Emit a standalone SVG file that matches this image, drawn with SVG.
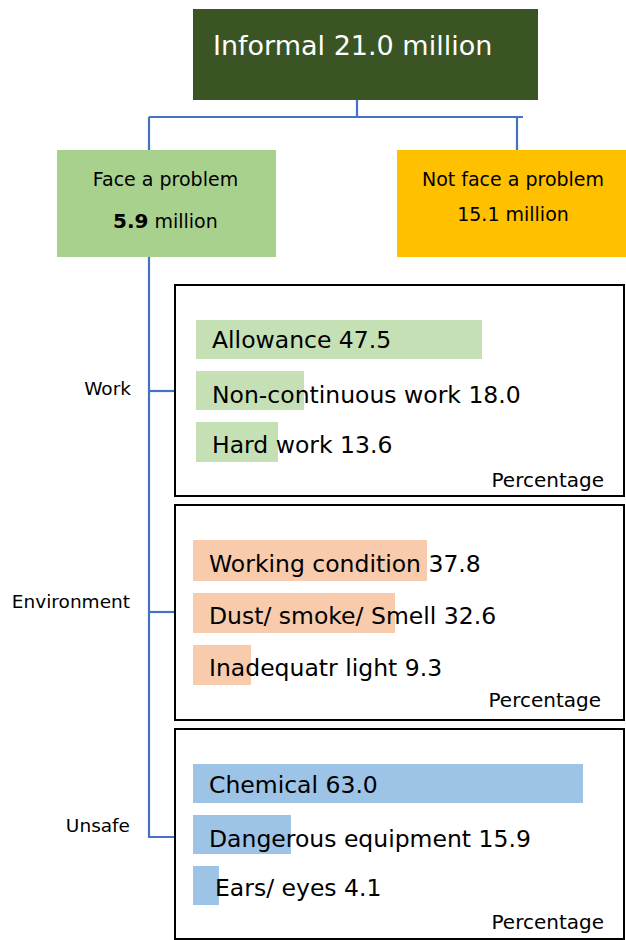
<svg xmlns="http://www.w3.org/2000/svg" width="626" height="940" viewBox="0 0 626 940">
<style>
text{font-family:"DejaVu Sans","Noto Sans",sans-serif;fill:#000}
.conn{stroke:#4472C4;stroke-width:2.2;fill:none}
.panel{fill:#fff;stroke:#000;stroke-width:2}
.bar-g{fill:#C5E0B4}
.bar-o{fill:#F8CBAD}
.bar-b{fill:#9DC3E6}
.item{font-size:23.5px}
.pct{font-size:20px;text-anchor:end}
.lbl{font-size:18.5px;text-anchor:end}
.cat{font-size:19px;text-anchor:middle}
</style>
<rect width="626" height="940" fill="#fff"/>
<g id="connectors">
<path class="conn" d="M357,100 V117"/>
<path class="conn" d="M149,117 H523"/>
<path class="conn" d="M517,117 V150"/>
<path class="conn" d="M149,117 V837 H175"/>
<path class="conn" d="M149,391 H175"/>
<path class="conn" d="M149,612 H175"/>
</g>
<g id="informal">
<rect x="193" y="9" width="345" height="91" fill="#3A5423"/>
<text x="213" y="55" font-size="27" style="fill:#fff">Informal 21.0 million</text>
</g>
<g id="face">
<rect x="57" y="150" width="219" height="107" fill="#A9D18E"/>
<text class="cat" x="165.5" y="186">Face a problem</text>
<text x="113" y="228" font-size="19"><tspan font-weight="bold" font-size="20">5.9</tspan> million</text>
</g>
<g id="notface">
<rect x="397" y="150" width="229" height="107" fill="#FFC000"/>
<text class="cat" x="513" y="186">Not face a problem</text>
<text class="cat" x="513" y="221">15.1 million</text>
</g>
<g id="work">
<text class="lbl" x="131" y="395">Work</text>
<rect class="panel" x="175" y="285" width="449" height="211"/>
<rect class="bar-g" x="196" y="320" width="286" height="39"/>
<rect class="bar-g" x="196" y="371" width="108" height="39"/>
<rect class="bar-g" x="196" y="422" width="82" height="40"/>
<text class="item" x="212" y="348">Allowance 47.5</text>
<text class="item" x="212" y="403">Non-continuous work 18.0</text>
<text class="item" x="212" y="453">Hard work 13.6</text>
<text class="pct" x="604" y="487">Percentage</text>
</g>
<g id="environment">
<text class="lbl" x="130" y="608">Environment</text>
<rect class="panel" x="175" y="505" width="449" height="215"/>
<rect class="bar-o" x="193" y="540" width="234" height="41"/>
<rect class="bar-o" x="193" y="593" width="202" height="40"/>
<rect class="bar-o" x="193" y="645" width="58" height="40"/>
<text class="item" x="209" y="572">Working condition 37.8</text>
<text class="item" x="209" y="624">Dust/ smoke/ Smell 32.6</text>
<text class="item" x="209" y="676">Inadequatr light 9.3</text>
<text class="pct" x="601" y="707">Percentage</text>
</g>
<g id="unsafe">
<text class="lbl" x="130" y="832">Unsafe</text>
<rect class="panel" x="175" y="729" width="449" height="210"/>
<rect class="bar-b" x="193" y="764" width="390" height="39"/>
<rect class="bar-b" x="193" y="815" width="98" height="39"/>
<rect class="bar-b" x="193" y="866" width="26" height="39"/>
<text class="item" x="209" y="793">Chemical 63.0</text>
<text class="item" x="209" y="847">Dangerous equipment 15.9</text>
<text class="item" x="215" y="896">Ears/ eyes 4.1</text>
<text class="pct" x="604" y="929">Percentage</text>
</g>
</svg>
